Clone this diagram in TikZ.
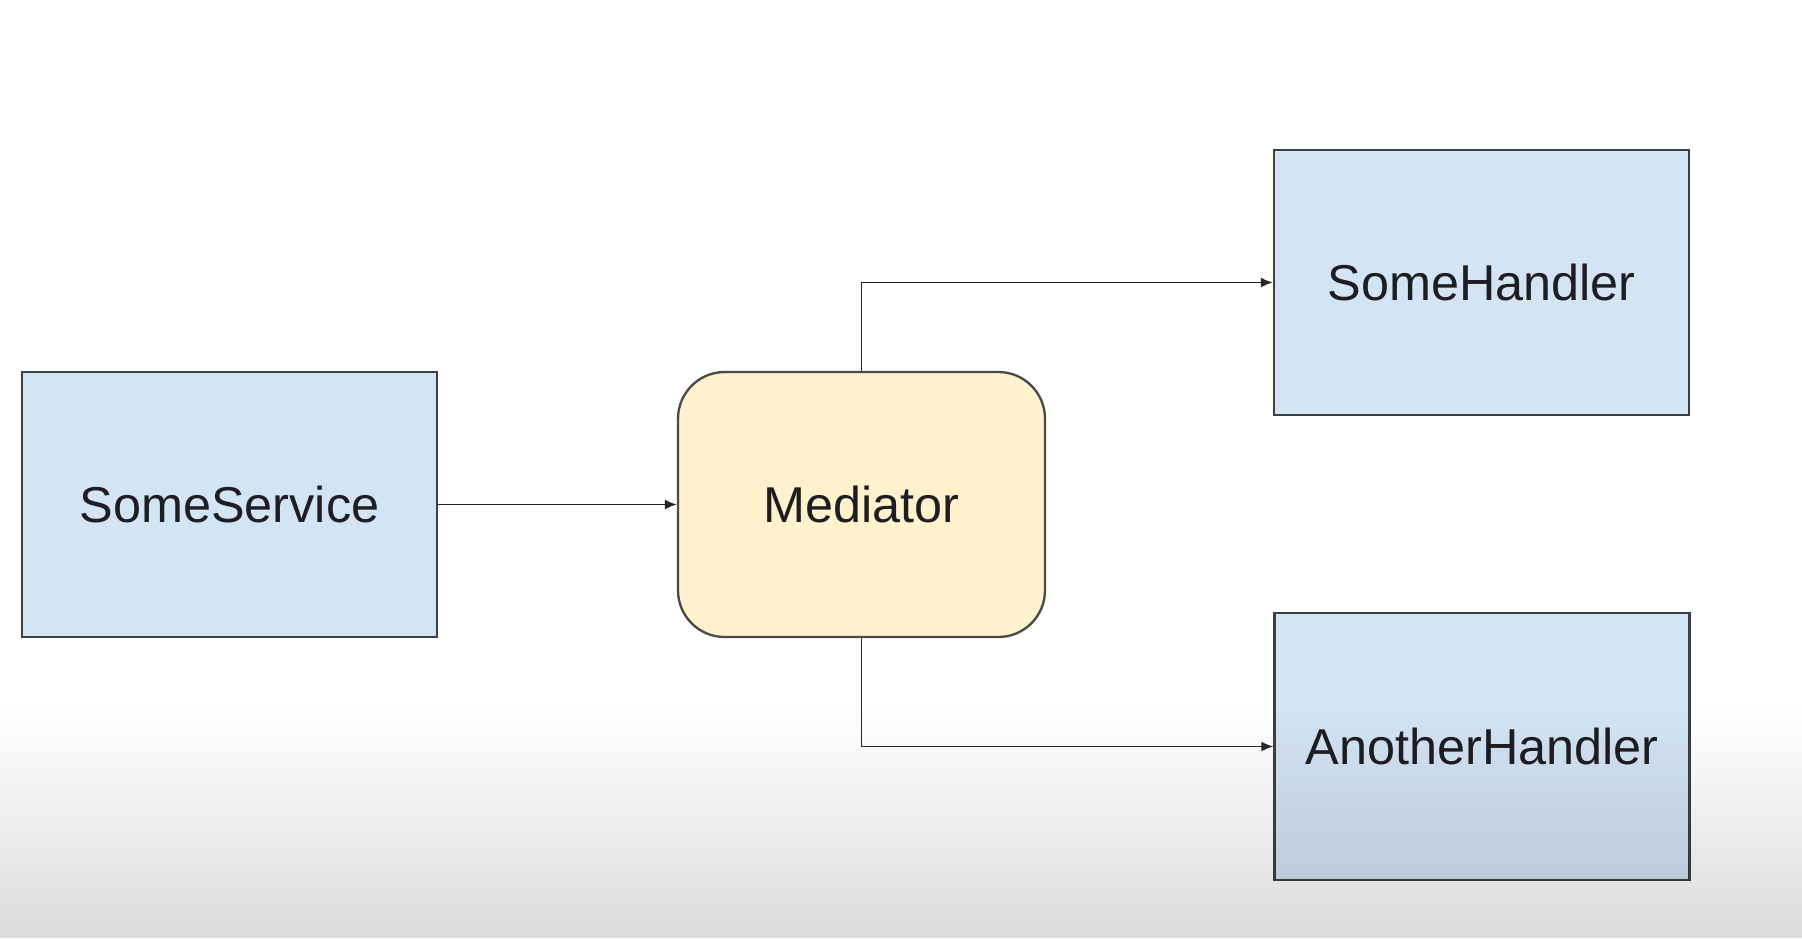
\documentclass[tikz,border=0pt]{standalone}
\usepackage{fontspec}
\setmainfont{Liberation Sans}
\usetikzlibrary{arrows.meta,fadings}
\definecolor{boxblue}{HTML}{D3E4F4}
\definecolor{boxline}{HTML}{3C4043}
\definecolor{medfill}{HTML}{FFF2CC}
\definecolor{medline}{HTML}{4A4A4A}
\definecolor{txt}{HTML}{1E1E22}
\tikzfading[name=fadedown, top color=transparent!100, bottom color=transparent!0]
\begin{document}
\begin{tikzpicture}[x=0.03cm,y=-0.03cm,
  bluebox/.style={draw=boxline, fill=boxblue, line width=2pt, inner sep=0pt,
    minimum width=415*0.03cm, minimum height=265*0.03cm, text=txt,
    font=\fontsize{43}{50}\selectfont},
  medbox/.style={draw=medline, fill=medfill, line width=2pt, inner sep=0pt,
    rounded corners=1.4cm, minimum width=367*0.03cm, minimum height=265*0.03cm, text=txt,
    font=\fontsize{43}{50}\selectfont},
  conn/.style={draw=black!85, line width=1.6pt, -{Latex[length=0.36cm,width=0.3cm]}}]
\useasboundingbox (0,0) rectangle (1802,938);
\fill[white] (0,0) rectangle (1802,938);
\node[bluebox] (svc) at (229.5,504.5) {SomeService};
\node[medbox] (med) at (861.5,504.5) {Mediator};
\node[bluebox] (h1) at (1481.5,282.5) {SomeHandler};
\node[bluebox, minimum height=267*0.03cm] (h2) at (1482,746.5) {AnotherHandler};
\draw[conn] (svc.east) -- (med.west);
\draw[conn] (med.north) |- (h1.west);
\draw[conn] (med.south) |- (h2.west);
\fill[black, opacity=0.14, path fading=fadedown] (0,705) rectangle (1802,938);
\end{tikzpicture}
\end{document}
